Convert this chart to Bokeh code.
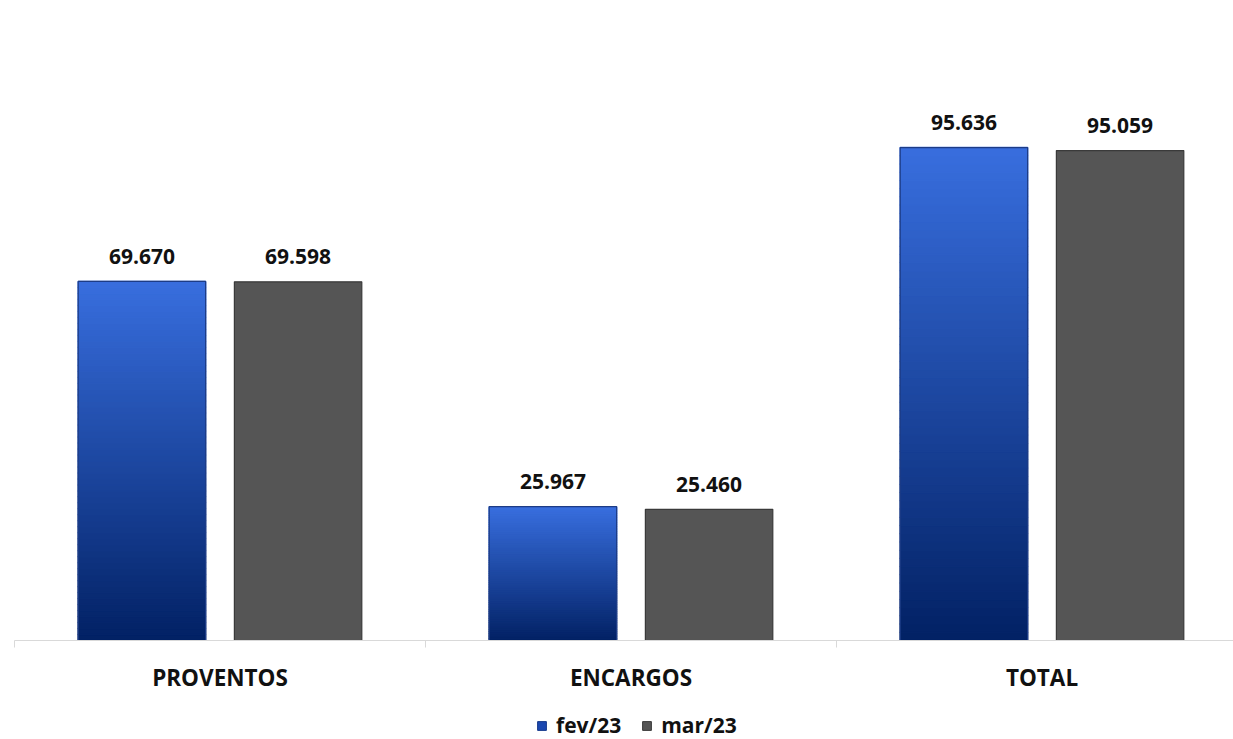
from bokeh.plotting import figure
from bokeh.layouts import column
from bokeh.models import ColumnDataSource, FixedTicker, Legend, LegendItem, Range1d, LabelSet
from bokeh.core.properties import value
from bokeh.embed import file_html
from bokeh.resources import INLINE

categories = ["PROVENTOS", "ENCARGOS", "TOTAL"]
fev23 = [69670, 25967, 95636]
mar23 = [69598, 25460, 95059]
series_names = ["fev/23", "mar/23"]

FONT = "Open Sans"


def fmt(v):
    return f"{v:,}".replace(",", ".")


def lerp(c1, c2, t):
    return "#%02x%02x%02x" % tuple(int(round(a + (b - a) * t)) for a, b in zip(c1, c2))


p = figure(frame_width=1219, frame_height=632,
           output_backend="svg", toolbar_location=None,
           x_range=Range1d(0, 1219 / 411), y_range=Range1d(0, 122620),
           y_axis_location=None,
           min_border_left=14, min_border_right=0, min_border_top=8, min_border_bottom=70)
p.outline_line_color = None
p.grid.visible = False
p.background_fill_color = "white"

offset = 0.19
width = 0.31
xs_fev = [i + 0.5 - offset for i in range(len(categories))]
xs_mar = [i + 0.5 + offset for i in range(len(categories))]

# gradient blue bars (sliced rendering of each bar)
top_c = (56, 110, 222)
bot_c = (2, 33, 100)
N = 60
gx, gb, gt, gc = [], [], [], []
for x, v in zip(xs_fev, fev23):
    for k in range(N):
        gx.append(x)
        gb.append(v * k / N)
        gt.append(v * (k + 1) / N)
        gc.append(lerp(bot_c, top_c, (k + 0.5) / N))
p.vbar(x=gx, bottom=gb, top=gt, width=width, fill_color=gc, line_color=gc, line_width=1.5)

src_fev = ColumnDataSource(dict(x=xs_fev, top=fev23, label=[fmt(v) for v in fev23]))
src_mar = ColumnDataSource(dict(x=xs_mar, top=mar23, label=[fmt(v) for v in mar23]))

r_fev = p.vbar(x="x", top="top", width=width, source=src_fev, fill_alpha=0,
               line_color="#1d3c86", line_width=1.2)
r_mar = p.vbar(x="x", top="top", width=width, source=src_mar, fill_color="#555555",
               line_color="#3a3a3a", line_width=1.2)

for src in (src_fev, src_mar):
    p.add_layout(LabelSet(x="x", y="top", text="label", source=src, y_offset=25,
                          text_align="center", text_baseline="middle",
                          text_font=value(FONT), text_font_style="bold",
                          text_font_size="21px", text_color="#111111"))

ax = p.xaxis[0]
ax.ticker = FixedTicker(ticks=[i + 0.5 for i in range(len(categories))],
                        minor_ticks=list(range(len(categories) + 1)))
ax.major_label_overrides = {i + 0.5: c for i, c in enumerate(categories)}
ax.major_tick_line_color = None
ax.major_tick_out = 0
ax.major_tick_in = 0
ax.minor_tick_in = 0
ax.minor_tick_out = 7
ax.minor_tick_line_color = "#d9d9d9"
ax.axis_line_color = "#d9d9d9"
ax.axis_line_width = 1.2
ax.major_label_standoff = 14
ax.major_label_text_font = FONT
ax.major_label_text_font_style = "bold"
ax.major_label_text_font_size = "22.5px"
ax.major_label_text_color = "#111111"

# legend strip
lf = figure(width=1233, height=29, output_backend="svg", toolbar_location=None,
            x_range=Range1d(0, 1), y_range=Range1d(0, 1),
            x_axis_location=None, y_axis_location=None,
            min_border_left=0, min_border_right=0, min_border_top=0, min_border_bottom=0)
lf.outline_line_color = None
lf.grid.visible = False
leg_fev = lf.vbar(x=[-5], top=[0], width=0.1, fill_color="#1b48b0", line_color="#163a8c")
leg_mar = lf.vbar(x=[-5], top=[0], width=0.1, fill_color="#555555", line_color="#3a3a3a")

legend = Legend(items=[LegendItem(label=series_names[0], renderers=[leg_fev]),
                       LegendItem(label=series_names[1], renderers=[leg_mar])],
                orientation="horizontal", location=(522, 0),
                border_line_color=None, background_fill_alpha=0,
                glyph_width=11, glyph_height=11, label_height=10, label_standoff=9, spacing=20,
                label_text_font=FONT, label_text_font_style="bold",
                label_text_font_size="21px", label_text_color="#111111",
                margin=0, padding=0)
lf.add_layout(legend, "center")

layout = column(p, lf, spacing=0)
open("out.html", "w").write(file_html(layout, INLINE))
